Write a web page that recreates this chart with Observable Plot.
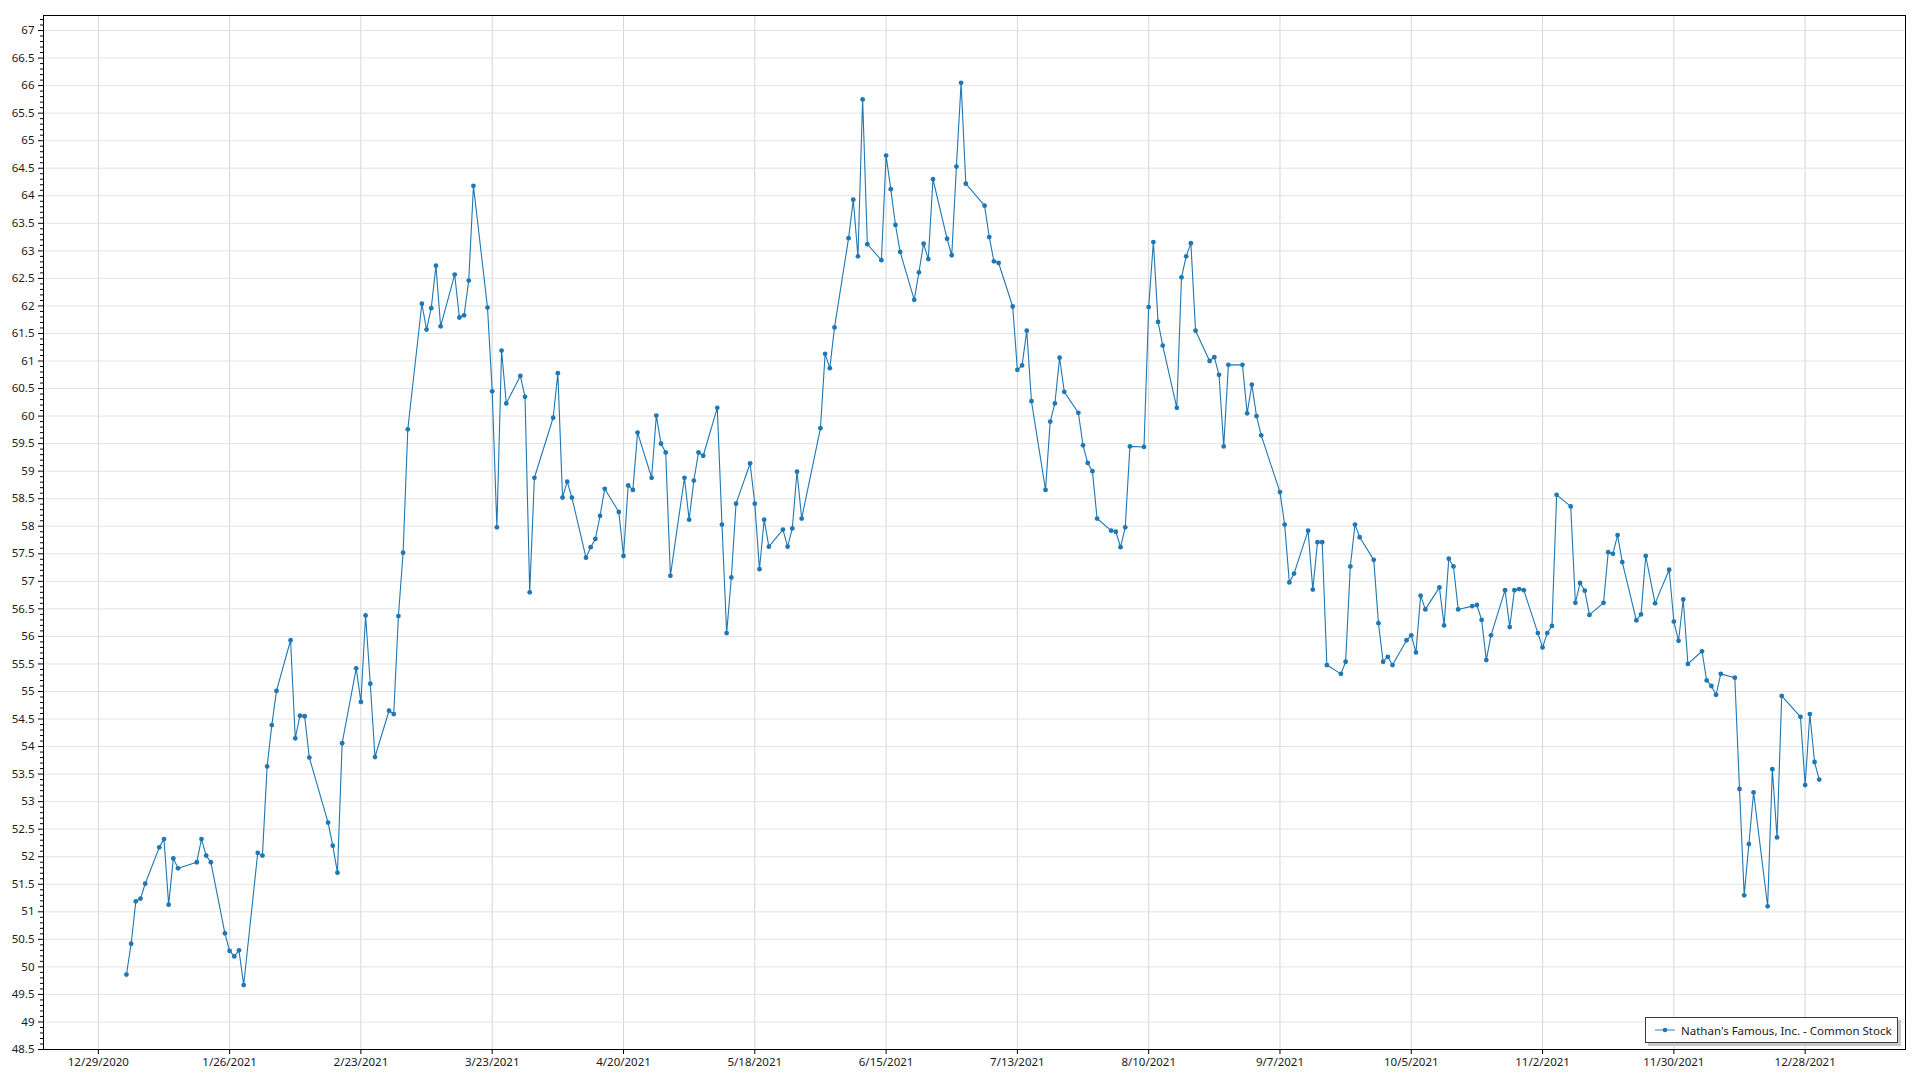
<!DOCTYPE html>
<html>
<head>
<meta charset="utf-8">
<script src="https://cdn.jsdelivr.net/npm/d3@7"></script>
<script src="https://cdn.jsdelivr.net/npm/@observablehq/plot@0.6"></script>
<style>
  body { margin: 0; background: #fff; }
  #wrap { position: relative; width: 1920px; height: 1080px; font-family: "Segoe UI", "Noto Sans", "Open Sans", sans-serif; }
  #legend { position: absolute; left: 1645px; top: 1017px; width: 253px; height: 26px; box-sizing: border-box;
    border: 1px solid #3a3a3a; background: #fff; box-shadow: 3px 3px 0 #c8c8c8;
    display: flex; align-items: center; font-size: 11.5px; color: #1a1a1a; white-space: nowrap; }
  #legend svg { margin-left: 9px; margin-right: 6px; }
</style>
</head>
<body>
<div id="wrap"></div>
<script>
const seriesName = "Nathan's Famous, Inc. - Common Stock";

const dates = [
  "2021-01-04","2021-01-05","2021-01-06","2021-01-07","2021-01-08","2021-01-11","2021-01-12","2021-01-13","2021-01-14","2021-01-15",
  "2021-01-19","2021-01-20","2021-01-21","2021-01-22","2021-01-25","2021-01-26","2021-01-27","2021-01-28","2021-01-29",
  "2021-02-01","2021-02-02","2021-02-03","2021-02-04","2021-02-05","2021-02-08","2021-02-09","2021-02-10","2021-02-11","2021-02-12",
  "2021-02-16","2021-02-17","2021-02-18","2021-02-19","2021-02-22","2021-02-23","2021-02-24","2021-02-25","2021-02-26",
  "2021-03-01","2021-03-02","2021-03-03","2021-03-04","2021-03-05","2021-03-08","2021-03-09","2021-03-10","2021-03-11","2021-03-12",
  "2021-03-15","2021-03-16","2021-03-17","2021-03-18","2021-03-19","2021-03-22","2021-03-23","2021-03-24","2021-03-25","2021-03-26",
  "2021-03-29","2021-03-30","2021-03-31",
  "2021-04-01","2021-04-05","2021-04-06","2021-04-07","2021-04-08","2021-04-09","2021-04-12","2021-04-13","2021-04-14","2021-04-15",
  "2021-04-16","2021-04-19","2021-04-20","2021-04-21","2021-04-22","2021-04-23","2021-04-26","2021-04-27","2021-04-28","2021-04-29","2021-04-30",
  "2021-05-03","2021-05-04","2021-05-05","2021-05-06","2021-05-07","2021-05-10","2021-05-11","2021-05-12","2021-05-13","2021-05-14",
  "2021-05-17","2021-05-18","2021-05-19","2021-05-20","2021-05-21","2021-05-24","2021-05-25","2021-05-26","2021-05-27","2021-05-28",
  "2021-06-01","2021-06-02","2021-06-03","2021-06-04","2021-06-07","2021-06-08","2021-06-09","2021-06-10","2021-06-11",
  "2021-06-14","2021-06-15","2021-06-16","2021-06-17","2021-06-18","2021-06-21","2021-06-22","2021-06-23","2021-06-24","2021-06-25",
  "2021-06-28","2021-06-29","2021-06-30",
  "2021-07-01","2021-07-02","2021-07-06","2021-07-07","2021-07-08","2021-07-09","2021-07-12","2021-07-13","2021-07-14","2021-07-15","2021-07-16",
  "2021-07-19","2021-07-20","2021-07-21","2021-07-22","2021-07-23","2021-07-26","2021-07-27","2021-07-28","2021-07-29","2021-07-30",
  "2021-08-02","2021-08-03","2021-08-04","2021-08-05","2021-08-06","2021-08-09","2021-08-10","2021-08-11","2021-08-12","2021-08-13",
  "2021-08-16","2021-08-17","2021-08-18","2021-08-19","2021-08-20","2021-08-23","2021-08-24","2021-08-25","2021-08-26","2021-08-27",
  "2021-08-30","2021-08-31",
  "2021-09-01","2021-09-02","2021-09-03","2021-09-07","2021-09-08","2021-09-09","2021-09-10","2021-09-13","2021-09-14","2021-09-15",
  "2021-09-16","2021-09-17","2021-09-20","2021-09-21","2021-09-22","2021-09-23","2021-09-24","2021-09-27","2021-09-28","2021-09-29","2021-09-30",
  "2021-10-01","2021-10-04","2021-10-05","2021-10-06","2021-10-07","2021-10-08","2021-10-11","2021-10-12","2021-10-13","2021-10-14",
  "2021-10-15","2021-10-18","2021-10-19","2021-10-20","2021-10-21","2021-10-22","2021-10-25","2021-10-26","2021-10-27","2021-10-28","2021-10-29",
  "2021-11-01","2021-11-02","2021-11-03","2021-11-04","2021-11-05","2021-11-08","2021-11-09","2021-11-10","2021-11-11","2021-11-12",
  "2021-11-15","2021-11-16","2021-11-17","2021-11-18","2021-11-19","2021-11-22","2021-11-23","2021-11-24","2021-11-26","2021-11-29","2021-11-30",
  "2021-12-01","2021-12-02","2021-12-03","2021-12-06","2021-12-07","2021-12-08","2021-12-09","2021-12-10","2021-12-13","2021-12-14",
  "2021-12-15","2021-12-16","2021-12-17","2021-12-20","2021-12-21","2021-12-22","2021-12-23","2021-12-27","2021-12-28","2021-12-29",
  "2021-12-30","2021-12-31"
];

const closes = [
  49.86,50.42,51.19,51.24,51.51,52.17,52.32,51.13,51.97,51.79,
  51.90,52.32,52.02,51.90,50.61,50.29,50.19,50.30,49.67,
  52.07,52.02,53.64,54.39,55.01,55.93,54.15,54.56,54.55,53.80,
  52.62,52.20,51.71,54.06,55.42,54.81,56.38,55.14,53.81,
  54.65,54.59,56.37,57.52,59.76,62.04,61.57,61.96,62.73,61.63,
  62.57,61.79,61.83,62.46,64.18,61.97,60.45,57.98,61.19,60.23,
  60.73,60.35,56.80,
  58.88,59.97,60.78,58.52,58.81,58.52,57.43,57.62,57.77,58.19,
  58.68,58.26,57.46,58.74,58.66,59.70,58.88,60.01,59.50,59.34,57.10,
  58.88,58.12,58.83,59.34,59.28,60.15,58.03,56.06,57.07,58.41,
  59.14,58.41,57.22,58.12,57.63,57.94,57.63,57.96,58.99,58.14,
  59.78,61.13,60.87,61.61,63.23,63.93,62.90,65.75,63.12,
  62.83,64.73,64.12,63.47,62.98,62.11,62.61,63.13,62.85,64.30,
  63.22,62.92,64.53,
  66.05,64.22,63.82,63.25,62.81,62.78,61.99,60.84,60.92,61.55,60.27,
  58.66,59.90,60.23,61.06,60.44,60.06,59.47,59.15,59.00,58.14,
  57.92,57.90,57.62,57.98,59.45,59.44,61.98,63.16,61.71,61.28,
  60.15,62.52,62.90,63.14,61.55,61.00,61.07,60.75,59.45,60.93,
  60.93,60.05,
  60.57,60.00,59.65,58.62,58.03,56.98,57.14,57.92,56.85,57.71,
  57.71,55.48,55.32,55.54,57.27,58.03,57.80,57.39,56.24,55.54,55.63,
  55.48,55.93,56.02,55.71,56.74,56.49,56.89,56.20,57.41,57.27,
  56.49,56.55,56.57,56.30,55.57,56.02,56.84,56.17,56.84,56.86,56.84,
  56.06,55.80,56.06,56.19,58.57,58.36,56.61,56.97,56.83,56.39,
  56.61,57.53,57.50,57.84,57.35,56.29,56.40,57.46,56.60,57.21,56.27,
  55.92,56.67,55.50,55.73,55.20,55.10,54.94,55.32,55.25,53.23,
  51.30,52.23,53.17,51.10,53.59,52.35,54.92,54.54,53.30,54.59,
  53.72,53.40
];

const xTicks = [
  "2020-12-29","2021-01-26","2021-02-23","2021-03-23","2021-04-20","2021-05-18","2021-06-15",
  "2021-07-13","2021-08-10","2021-09-07","2021-10-05","2021-11-02","2021-11-30","2021-12-28"
];
const yTicks = [48.5,49,49.5,50,50.5,51,51.5,52,52.5,53,53.5,54,54.5,55,55.5,56,56.5,57,57.5,58,58.5,59,59.5,60,60.5,61,61.5,62,62.5,63,63.5,64,64.5,65,65.5,66,66.5,67];

const parse = d3.utcParse("%Y-%m-%d");
const data = dates.map((d, i) => ({date: parse(d), close: closes[i]}));
const xTickDates = xTicks.map(parse);
const minorTicks = d3.range(485, 673, 1).map(v => v / 10).filter(v => Math.abs(v * 2 - Math.round(v * 2)) > 1e-6);

const DAY = 86400000;
const t0 = Date.UTC(2020, 11, 29);
const FONT = '"Segoe UI", "Noto Sans", "Open Sans", sans-serif';

const chart = Plot.plot({
  width: 1920,
  height: 1080,
  marginLeft: 43,
  marginRight: 15,
  marginTop: 15,
  marginBottom: 31,
  style: {fontFamily: FONT, fontSize: "11.5px", color: "#1a1a1a", background: "#fff"},
  x: {type: "utc", domain: [new Date(t0 - 11.69 * DAY), new Date(t0 + 385.4 * DAY)]},
  y: {domain: [48.5, 67.273]},
  marks: [
    Plot.gridX(xTickDates, {stroke: "#d6d6d6", strokeOpacity: 1}),
    Plot.gridY(yTicks, {stroke: "#e3e3e3", strokeOpacity: 1}),
    Plot.line(data, {x: "date", y: "close", stroke: "#1f77b4", strokeWidth: 1.1}),
    Plot.dot(data, {x: "date", y: "close", r: 2.4, fill: "#1f77b4", stroke: "none"}),
    Plot.axisX(xTickDates, {tickFormat: d3.utcFormat("%-m/%-d/%Y"), tickSize: 5, tickPadding: 3, label: null, stroke: "#000"}),
    Plot.axisY(yTicks, {tickFormat: d => String(d), tickSize: 5, tickPadding: 4, label: null, stroke: "#000"}),
    Plot.axisY(minorTicks, {tickFormat: () => "", tickSize: 3, label: null, stroke: "#000"}),
    Plot.frame({stroke: "#000", strokeWidth: 1})
  ]
});

const wrap = document.getElementById("wrap");
wrap.appendChild(chart);

const legend = document.createElement("div");
legend.id = "legend";
legend.innerHTML = '<svg width="20" height="10"><line x1="0" y1="5" x2="20" y2="5" stroke="#7fb1d8" stroke-width="1.6"/><circle cx="10" cy="5" r="2.3" fill="#1f77b4"/></svg>';
const span = document.createElement("span");
span.textContent = seriesName;
legend.appendChild(span);
wrap.appendChild(legend);
</script>
</body>
</html>
